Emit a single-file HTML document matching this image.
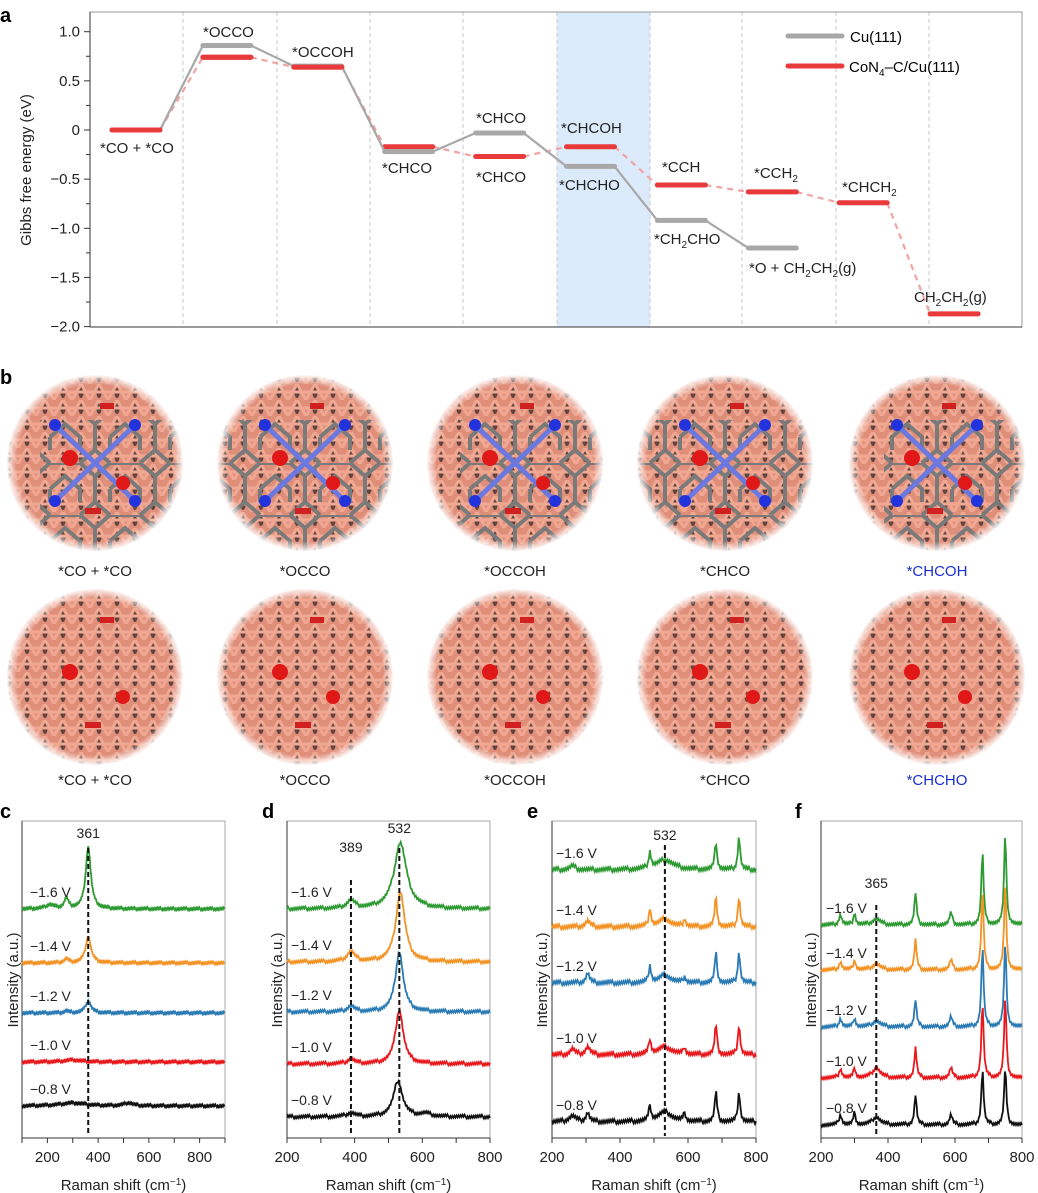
<!DOCTYPE html>
<html><head><meta charset="utf-8"><style>
body{margin:0;background:#fff;}
svg{display:block;font-family:"Liberation Sans",sans-serif;}
</style></head><body>
<svg id="fig" width="1038" height="1193" viewBox="0 0 1038 1193" xmlns="http://www.w3.org/2000/svg">
<defs>
<radialGradient id="fade" cx="0.5" cy="0.5" r="0.5">
<stop offset="0.88" stop-color="#fff" stop-opacity="0"/>
<stop offset="1" stop-color="#fff" stop-opacity="1"/>
</radialGradient>
<pattern id="cu" width="18" height="16" patternUnits="userSpaceOnUse">
<rect width="18" height="16" fill="#df8e7a"/>
<ellipse cx="9" cy="8" rx="2.6" ry="6" fill="#5e4440"/>
<path d="M0 16 L9 0 L18 16 M0 8 H18" stroke="#f0a892" stroke-width="3" fill="none"/>
</pattern>
<pattern id="hex" width="60" height="52" patternUnits="userSpaceOnUse">
<path d="M0 13 L15 0 L45 0 L60 13 M0 13 L0 39 L15 52 M60 13 L60 39 L45 52 M15 26 L30 13 L45 26 L45 39 M15 26 L15 39" stroke="#7a7a7a" stroke-width="4" fill="none"/>
</pattern>
</defs>
<g id="panelA"></g>
<g id="panelB"></g>
<g id="panelR"></g>
</svg>
<script>
const NS="http://www.w3.org/2000/svg";
function mk(parent,tag,attrs,text){const e=document.createElementNS(NS,tag);for(const k in attrs)e.setAttribute(k,attrs[k]);if(text!==undefined)e.textContent=text;parent.appendChild(e);return e;}

// ---------- Panel a data ----------
const cuEnergies=[0,0.86,0.65,-0.22,-0.03,-0.37,-0.92,-1.20];
const conEnergies=[0,0.74,0.64,-0.17,-0.27,-0.17,-0.56,-0.63,-0.74,-1.87];
const yTicks=[1.0,0.5,0,-0.5,-1.0,-1.5,-2.0];
const yTickLabels=["1.0","0.5","0","\u22120.5","\u22121.0","\u22121.5","\u22122.0"];

const A=document.getElementById('panelA');
const ax0=90,ax1=1022,ay0=12,ay1=327;
const yE=v=>130-v*98.3;
const colX=i=>112+90.9*i;
const LW=48;
mk(A,'rect',{x:557,y:ay0,width:93,height:ay1-ay0,fill:'#dcebfb',});
[183,277,370,463,557,650,742,836,929].forEach(x=>{const l=mk(A,'line',{x1:x,y1:ay0,x2:x,y2:ay1,stroke:'#c8c8c8','stroke-dasharray':'4,3','stroke-width':1});});
mk(A,'rect',{x:ax0,y:ay0,width:ax1-ax0,height:ay1-ay0,fill:'none',stroke:'#999','stroke-width':1,});
mk(A,'line',{x1:ax0,y1:ay0,x2:ax0,y2:ay1,stroke:'#333','stroke-width':1});
mk(A,'line',{x1:ax0,y1:ay1,x2:ax1,y2:ay1,stroke:'#333','stroke-width':1});
yTicks.forEach((v,i)=>{const y=yE(v);mk(A,'line',{x1:ax0-6,y1:y,x2:ax0,y2:y,stroke:'#333'});const t=mk(A,'text',{x:ax0-10,y:y+5,'text-anchor':'end','font-size':15,fill:'#222'},yTickLabels[i]);
if(i<yTicks.length-1){const ym=yE(v-0.25);mk(A,'line',{x1:ax0-4,y1:ym,x2:ax0,y2:ym,stroke:'#333'});}});
mk(A,'text',{x:0,y:0,transform:'translate(31,170) rotate(-90)','text-anchor':'middle','font-size':15,fill:'#222',},'Gibbs free energy (eV)');
mk(A,'text',{x:0,y:22,'font-size':20,'font-weight':'bold',},'a');
function drawSeries(arr,color,dash,name){
 for(let i=0;i<arr.length-1;i++){const l=mk(A,'line',{x1:colX(i)+LW,y1:yE(arr[i]),x2:colX(i+1),y2:yE(arr[i+1]),stroke:color,'stroke-width':2.2,'stroke-dasharray':dash});}
 arr.forEach((v,i)=>{const l=mk(A,'line',{x1:colX(i),y1:yE(v),x2:colX(i)+LW,y2:yE(v),stroke:color==='#f2a3a3'?'#e8393b':color,'stroke-width':5,'stroke-linecap':'round'});});
}
drawSeries(conEnergies,'#f2a3a3','6,5','con4');
drawSeries(cuEnergies,'#a8a8a8','','cu111');
[0,1,2].forEach(i=>mk(A,'line',{x1:colX(i),y1:yE(conEnergies[i]),x2:colX(i)+LW,y2:yE(conEnergies[i]),stroke:'#e8393b','stroke-width':5,'stroke-linecap':'round'}));
const labs=[[100,153,'*CO + *CO'],[203,37,'*OCCO'],[292,57,'*OCCOH'],[382,173,'*CHCO'],[476,123,'*CHCO'],[476,182,'*CHCO'],[561,133,'*CHCOH'],[559,190,'*CHCHO'],[662,172,'*CCH'],[754,178,'*CCH<tspan font-size="10" dy="4">2</tspan>'],[654,244,'*CH<tspan font-size="10" dy="4">2</tspan><tspan dy="-4">CHO</tspan>'],[749,273,'*O + CH<tspan font-size="10" dy="4">2</tspan><tspan dy="-4">CH</tspan><tspan font-size="10" dy="4">2</tspan><tspan dy="-4">(g)</tspan>'],[842,192,'*CHCH<tspan font-size="10" dy="4">2</tspan>'],[914,302,'CH<tspan font-size="10" dy="4">2</tspan><tspan dy="-4">CH</tspan><tspan font-size="10" dy="4">2</tspan><tspan dy="-4">(g)</tspan>']];
labs.forEach(l=>{const t=mk(A,'text',{x:l[0],y:l[1],'font-size':15,fill:'#222'});t.innerHTML=l[2];});
mk(A,'line',{x1:788,y1:36,x2:842,y2:36,stroke:'#a8a8a8','stroke-width':5,'stroke-linecap':'round',});
mk(A,'line',{x1:788,y1:66,x2:842,y2:66,stroke:'#e8393b','stroke-width':5,'stroke-linecap':'round',});
mk(A,'text',{x:850,y:42,'font-size':15,},'Cu(111)');
const lt=mk(A,'text',{x:849,y:72,'font-size':15,});lt.innerHTML='CoN<tspan font-size="10" dy="4">4</tspan><tspan dy="-4">\u2013C/Cu(111)</tspan>';

// ---------- Panel b ----------
const B=document.getElementById('panelB');
mk(B,'text',{x:0,y:384,'font-size':20,'font-weight':'bold',},'b');
const bx=[95,305,515,725,937];
const topLabels=['*CO + *CO','*OCCO','*OCCOH','*CHCO','*CHCOH'];
const botLabels=['*CO + *CO','*OCCO','*OCCOH','*CHCO','*CHCHO'];
bx.forEach((cx,i)=>{
 [[463,true],[677,false]].forEach(([cy,top])=>{
  const g=mk(B,'g',{});
  const id='c'+i+(top?'t':'b');
  mk(mk(g,'clipPath',{id:id}),'circle',{cx:cx,cy:cy,r:88});
  const inner=mk(g,'g',{'clip-path':'url(#'+id+')'});
  mk(inner,'rect',{x:cx-90,y:cy-90,width:180,height:180,fill:'url(#cu)'});
  if(top){mk(inner,'rect',{x:cx-90,y:cy-90,width:180,height:180,fill:'url(#hex)',transform:'translate('+(cx%60)+','+(cy%52)+')'});
   mk(inner,'path',{d:`M${cx-40} ${cy-38} L${cx+40} ${cy+38} M${cx+40} ${cy-38} L${cx-40} ${cy+38}`,stroke:'#6a78e0','stroke-width':5});
   [[-40,-38],[40,-38],[-40,38],[40,38]].forEach(p=>mk(inner,'circle',{cx:cx+p[0],cy:cy+p[1],r:6,fill:'#2233dd'}));
  }
  mk(inner,'circle',{cx:cx-25,cy:cy-5,r:8,fill:'#e01818'});
  mk(inner,'circle',{cx:cx+28,cy:cy+20,r:7,fill:'#e01818'});
  mk(inner,'rect',{x:cx-10,y:cy+45,width:16,height:6,fill:'#d02020'});
  mk(inner,'rect',{x:cx+5,y:cy-60,width:14,height:6,fill:'#d02020'});
  mk(g,'circle',{cx:cx,cy:cy,r:89,fill:'url(#fade)'});
 });
 const t1=mk(B,'text',{x:cx,y:576,'text-anchor':'middle','font-size':15,fill:i===4?'#1a2fd0':'#222'},topLabels[i]);
 const t2=mk(B,'text',{x:cx,y:785,'text-anchor':'middle','font-size':15,fill:i===4?'#1a2fd0':'#222'},botLabels[i]);
});

// ---------- Raman panels ----------
const voltLabels=['\u22121.6 V','\u22121.4 V','\u22121.2 V','\u22121.0 V','\u22120.8 V'];
const traceColors=['#2e9a32','#f39325','#2a7ab4','#e8181c','#111'];
const cPeaks=[[[361,62,12],[275,10,10],[210,4,20]],[[361,26,13],[275,4,10]],[[361,12,13],[275,2,10]],[[300,2,40]],[[300,3,60],[520,3,20]]];
const dPeaks=[[[535,66,22],[389,8,14]],[[535,70,16],[389,10,14]],[[532,60,14],[389,6,12]],[[532,54,14],[389,5,12]],[[528,36,16],[389,4,14],[610,3,20]]];
const ePeaks=[[[682,28,4],[750,33,4],[488,16,4],[532,10,30],[260,4,10]],[[682,30,4],[750,30,4],[488,18,4],[532,8,20],[590,8,4],[305,6,8]],[[682,30,4],[750,31,4],[488,17,4],[532,8,20],[590,6,4],[305,10,6]],[[682,30,4],[750,30,4],[488,15,4],[532,8,25],[590,7,4],[305,8,8],[260,6,8]],[[682,30,4],[750,30,4],[488,15,4],[532,10,25],[590,8,4],[305,9,6],[260,6,12]]];
const fPeaks=[[[682,73,4],[750,92,4],[482,32,4],[588,12,5],[258,10,5],[300,12,4],[365,6,14]],[[682,80,4],[750,85,4],[482,30,4],[588,10,5],[258,8,5],[300,10,4],[365,6,14]],[[682,80,4],[750,85,4],[482,27,4],[588,10,5],[258,8,5],[300,9,4],[365,6,14]],[[682,75,4],[750,80,4],[482,30,4],[588,10,5],[258,9,5],[300,10,4],[365,10,14]],[[682,55,4],[750,57,4],[482,30,4],[588,10,5],[258,10,5],[300,12,4],[365,8,14]]];
const cBase=[909,963,1013,1062,1106];
const dBase=[909,962,1012,1064,1117];
const eBase=[870,927,983,1055,1122];
const fBase=[925,970,1027,1078,1125];
const cTicks=[200,400,600,800];
const dTicks=[200,400,600,800];
const cMarks=[361];const dMarks=[389,532];const eMarks=[532];const fMarks=[365];
const noiseAmp=[3,4,4,6,5];

const R=document.getElementById('panelR');
const panels=[
 {L:'c',x0:22,x1:225,xmin:100,xmax:900,peaks:cPeaks,base:cBase,ticks:cTicks,marks:cMarks,labx:30,lx:0,tx:12,n:0},
 {L:'d',x0:287,x1:490,xmin:200,xmax:800,peaks:dPeaks,base:dBase,ticks:dTicks,marks:dMarks,labx:291,lx:262,tx:276,n:1},
 {L:'e',x0:552,x1:756,xmin:200,xmax:800,peaks:ePeaks,base:eBase,ticks:dTicks,marks:eMarks,labx:556,lx:527,tx:541,n:3},
 {L:'f',x0:821,x1:1022,xmin:200,xmax:800,peaks:fPeaks,base:fBase,ticks:dTicks,marks:fMarks,labx:826,lx:795,tx:810,n:2}];
const fy0=821,fy1=1138;
panels.forEach(p=>{
 const g=mk(R,'g',{});
 const sx=v=>p.x0+(v-p.xmin)/(p.xmax-p.xmin)*(p.x1-p.x0);
 mk(g,'rect',{x:p.x0,y:fy0,width:p.x1-p.x0,height:fy1-fy0,fill:'none',stroke:'#aaa'});
 mk(g,'line',{x1:p.x0,y1:fy0,x2:p.x0,y2:fy1,stroke:'#333'});
 mk(g,'line',{x1:p.x0,y1:fy1,x2:p.x1,y2:fy1,stroke:'#333'});
 mk(g,'text',{x:p.lx,y:fy0-3,'font-size':20,'font-weight':'bold',},p.L);
 mk(g,'text',{x:0,y:0,transform:`translate(${p.tx+6},${980}) rotate(-90)`,'text-anchor':'middle','font-size':15,fill:'#222',},'Intensity (a.u.)');
 const t=mk(g,'text',{x:(p.x0+p.x1)/2,y:1190,'text-anchor':'middle','font-size':15,fill:'#222',});t.innerHTML='Raman shift (cm<tspan font-size="10" dy="-5">\u22121</tspan><tspan dy="5">)</tspan>';
 for(let v=p.xmin;v<=p.xmax;v+=100){mk(g,'line',{x1:sx(v),y1:fy1,x2:sx(v),y2:fy1+5,stroke:'#333'});}
 p.ticks.forEach(v=>{const tl=mk(g,'text',{x:sx(v),y:1162,'text-anchor':'middle','font-size':15,fill:'#222'},String(v));});
 p.base.forEach((b,k)=>{
  let d='';
  for(let v=p.xmin;v<=p.xmax;v+=3){let h=0;p.peaks[k].forEach(pk=>{const z=(v-pk[0])/pk[2];h+=pk[1]/(1+z*z);});
   const jit=((v*7919+k*104729+p.n*31)%17)/17-0.5;
   d+=(d?'L':'M')+sx(v).toFixed(1)+' '+(b-h+jit*noiseAmp[p.n+ (p.L==='e'?1:0)]).toFixed(1);}
  const pa=mk(g,'path',{d:d,fill:'none',stroke:traceColors[k],'stroke-width':1.8});
  
  const vl=mk(g,'text',{x:p.labx,y:b-12,'font-size':14,fill:'#222'},voltLabels[k]);
  
 });
 p.marks.forEach((m,j)=>{
  const topY=(p.L==='d'&&m===389)?880:(p.L==='f'?905:(p.L==='e'?845:848));
  const ml=mk(g,'line',{x1:sx(m),y1:topY,x2:sx(m),y2:fy1-2,stroke:'#111','stroke-width':2,'stroke-dasharray':'5,3'});
  
  const lbl=mk(g,'text',{x:sx(m),y:(p.L==='d'&&m===389)?852:(p.L==='d'?833:(p.L==='f'?888:(p.L==='e'?840:838))),'text-anchor':'middle','font-size':14,fill:'#222'},String(m));
  
 });
});
</script>
</body></html>
